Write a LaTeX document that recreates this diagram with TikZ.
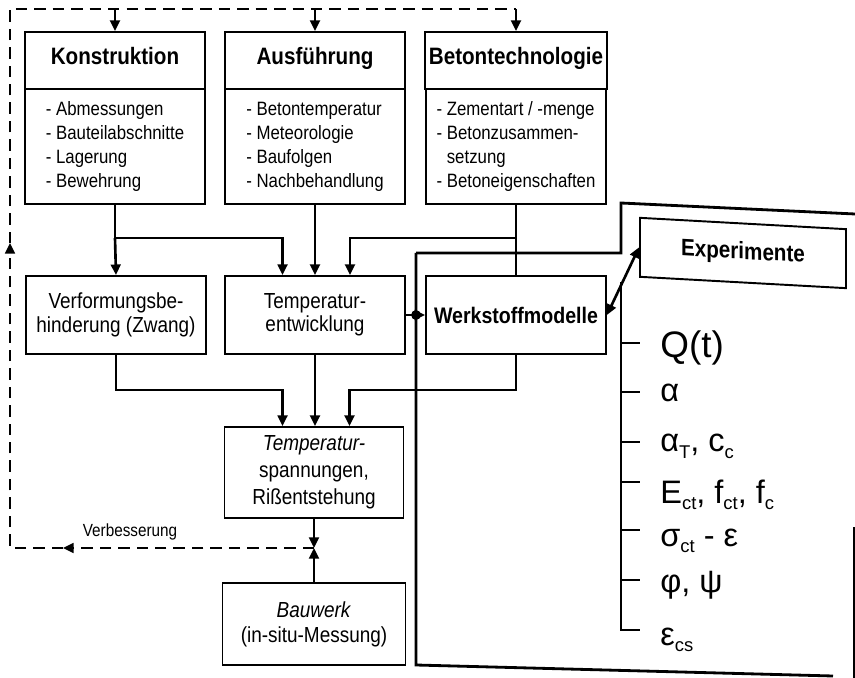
\documentclass[tikz,border=0pt]{standalone}
\usepackage{fontspec}
\setmainfont{Liberation Sans}[FakeStretch=0.87]
\newfontfamily\symfont{Liberation Sans}
\usepackage{tikz}
\usetikzlibrary{
	arrows.meta,
	calc,
	positioning
}
\newcommand{\lowidx}[1]{\raisebox{-0.4ex}{\fontsize{10.5}{10.5}\selectfont #1}}

\begin{document}
\begin{tikzpicture}[x=0.02cm, y=-0.02cm,
	box/.style={draw, line width=1.1pt, align=center, inner sep=2pt},
	head/.style={box, minimum width=3.6cm, minimum height=1.14cm, text height=0.72em, text depth=0.22em, font=\fontsize{13.5}{16}\selectfont\bfseries},
	list/.style={box, minimum width=3.6cm, minimum height=2.3cm, align=left, font=\fontsize{11}{13.7}\selectfont},
	mid/.style={box, minimum width=3.6cm, minimum height=1.56cm, font=\fontsize{12.4}{13.3}\selectfont},
	conn/.style={line width=1.5pt},
	arr/.style={conn, -{Triangle[length=6pt,width=5.5pt]}},
	fbline/.style={line width=1.4pt, dash pattern=on 6.5pt off 4pt},
	param/.style={anchor=base west, inner sep=0pt, font=\symfont\fontsize{18.5}{18.5}\selectfont}
	]
	\useasboundingbox (0,0) rectangle (855,678);
	
	\node[head] (konstr) at (115,60.5) {Konstruktion};
	\node[list, below=-1.1pt of konstr] (konstrL) {- Abmessungen\\- Bauteilabschnitte\\- Lagerung\\- Bewehrung};
	\node[head] (ausf) at (315,60.5) {Ausführung};
	\node[list, below=-1.1pt of ausf] (ausfL) {- Betontemperatur\\- Meteorologie\\- Baufolgen\\- Nachbehandlung};
	\node[head] (beton) at (516,60.5) {Betontechnologie};
	\node[list, below=-1.1pt of beton] (betonL) {- Zementart / -menge\\- Betonzusammen-\\\hphantom{- }setzung\\- Betoneigenschaften};
	
	\node[mid] (verf) at (116,315) {Verformungsbe-\\hinderung (Zwang)};
	\node[mid] (tentw) at (315,315) {Temperatur-\\entwicklung};
	\node[mid, font=\fontsize{12.8}{14}\selectfont\bfseries] (werk) at (516,315) {Werkstoffmodelle};
	\node[mid, minimum width=3.58cm, minimum height=1.82cm, font=\fontsize{12.4}{15.4}\selectfont] (tspann) at (314,472.5) {\textit{Temperatur-}\\spannungen,\\Rißentstehung};
	\node[mid, minimum width=3.66cm, minimum height=1.64cm, font=\fontsize{12.4}{14.2}\selectfont] (bauw) at (314,624) {\textit{Bauwerk}\\(in-situ-Messung)};
	
	\node[draw, line width=1.1pt, yslant=-0.055, minimum width=4.12cm, minimum height=1.18cm, font=\fontsize{13.5}{16}\selectfont\bfseries] (exper) at (743,253) {Experimente};
	
	\coordinate (j1) at (konstrL.south |- 0,238);
	\coordinate (j2) at (betonL.south |- 0,238);
	\draw[conn] (konstrL.south) -- (j1);
	\draw[arr] (j1) -- (verf.north);
	\draw[arr] (j1) -| ([xshift=-0.65cm]tentw.north);
	\draw[arr] (ausfL.south) -- (tentw.north);
	\draw[conn] (betonL.south) -- (werk.north);
	\draw[arr] (j2) -| ([xshift=0.7cm]tentw.north);
	
	\draw[arr] (verf.south) -- (verf.south |- 0,390) -| ([xshift=-0.63cm]tspann.north);
	\draw[arr] (tentw.south) -- (tentw.south |- tspann.north);
	\draw[arr] (werk.south) -- (werk.south |- 0,390) -| ([xshift=0.71cm]tspann.north);
	
	% Rahmen
	\coordinate (fl) at (416,253);
	\draw[line width=1.6pt] (fl) -- (621,253) -- (621,203) -- (855,214);
	\draw[line width=1.6pt] (fl) -- (416,665) -- (833,676);
	\draw[line width=1.6pt] (854,527) -- (854,678);
	\draw[arr] (tentw.east) -- (werk.west);
	\fill (fl |- werk.west) circle (2.8pt);
	\draw[conn, {Triangle[length=6pt,width=5.5pt]}-{Triangle[length=6pt,width=5.5pt]}] (werk.east) -- (exper.west);
	
	% Rueckkopplung
	\coordinate (fb) at (tspann.south |- 0,548);
	\coordinate (fbA) at (63,548);
	\coordinate (fbL) at (10,548);
	\coordinate (fbU) at (10,243);
	\coordinate (fbT) at (10,9);
	\draw[arr] (tspann.south) -- (fb);
	\draw[arr] (bauw.north) -- (fb);
	\draw[fbline, -{Triangle[length=6pt,width=5.5pt]}] (fb) -- (fbA);
	\draw[fbline, -{Triangle[length=6pt,width=5.5pt]}] (fbA) -- (fbL) -- (fbU);
	\draw[fbline] (fbU) -- (fbT) -- (beton.north |- fbT);
	\draw[arr] (konstr.north |- fbT) -- (konstr.north);
	\draw[arr] (ausf.north |- fbT) -- (ausf.north);
	\draw[arr] (beton.north |- fbT) -- (beton.north);
	\node[font=\fontsize{10}{12}\selectfont] (verb) at (130,532) {Verbesserung};
	
	% Kennwerte
	\draw[conn] (621,282) -- (621,630) -- (640,630);
	\foreach \y in {343,392,442,482,530,580}
		\draw[conn] (621,\y) -- (640,\y);
	\node[param, font=\symfont\fontsize{21}{21}\selectfont] (pq) at (660,358) {Q(t)};
	\node[param] (pa) at (660,402) {α};
	\node[param] (pat) at (660,452) {α\lowidx{T}, c\lowidx{c}};
	\node[param] (pe) at (660,503) {E\lowidx{ct}, f\lowidx{ct}, f\lowidx{c}};
	\node[param] (ps) at (660,546) {σ\lowidx{ct} - ε};
	\node[param] (pp) at (660,592) {φ, ψ};
	\node[param] (pec) at (660,645) {ε\lowidx{cs}};
\end{tikzpicture}
\end{document}
